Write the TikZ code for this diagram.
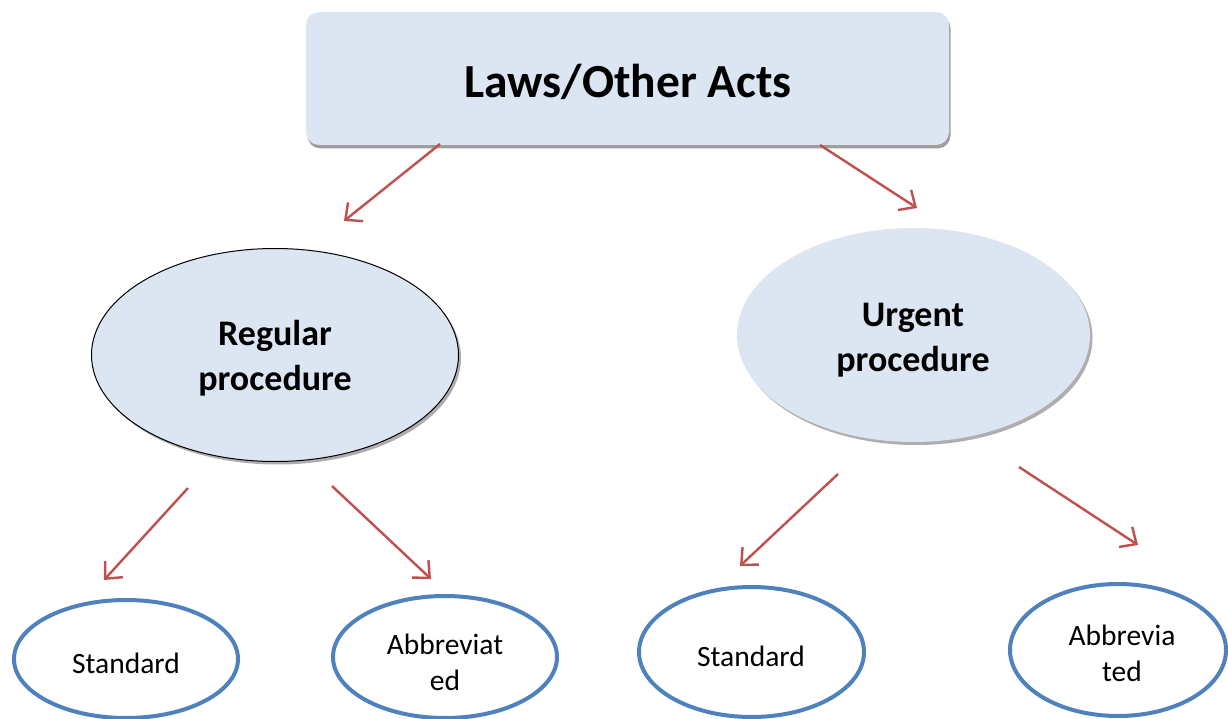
\documentclass[tikz,border=0pt]{standalone}
\usepackage{fontspec}
\setmainfont{Carlito}
\usetikzlibrary{shapes.geometric,arrows.meta,shadows}
\definecolor{boxfill}{HTML}{DCE6F2}
\definecolor{arrowred}{HTML}{C0504D}
\definecolor{ringblue}{HTML}{4F81BD}
\tikzset{
  topbox/.style={rectangle, rounded corners=13pt, fill=boxfill, inner sep=0pt,
    minimum width=643pt, minimum height=133pt,
    drop shadow={shadow xshift=1.5pt, shadow yshift=-3.5pt, fill=black!38, opacity=1}},
  bigoval/.style={ellipse, fill=boxfill, inner sep=0pt,
    drop shadow={shadow xshift=2.5pt, shadow yshift=-3pt, fill=black!35, opacity=0.9}},
  bigtext/.style={align=center, inner sep=0pt, font=\bfseries\fontsize{36}{45}\selectfont},
  ring/.style={ellipse, draw=ringblue, line width=4pt, fill=white, inner sep=0pt},
  smalltext/.style={align=center, inner sep=0pt, font=\fontsize{29.5}{36}\selectfont},
  redarrow/.style={draw=arrowred, line width=2.4pt,
    -{Straight Barb[length=13pt,width=24pt,line width=2.4pt]}}
}
\begin{document}
\begin{tikzpicture}[x=1pt,y=-1pt]
\useasboundingbox (0,0) rectangle (1228,719);
\fill[white] (0,0) rectangle (1228,719);

\node[topbox] (top) at (627.5,78.5) {};
\node[inner sep=0pt, font=\bfseries\fontsize{47.5}{56}\selectfont] (toptext) at (628,81.5) {Laws/Other Acts};

\node[bigoval, draw=black, line width=1pt, minimum width=367pt, minimum height=213pt] (reg) at (275,355) {};
\node[bigtext] (regtext) at (275,358) {Regular\\procedure};
\node[bigoval, minimum width=353pt, minimum height=214pt] (urg) at (913.5,335) {};
\node[bigtext] (urgtext) at (913,340) {Urgent\\procedure};

\node[ring, minimum width=224pt, minimum height=118pt] (std1) at (126,659) {};
\node[smalltext] (std1text) at (126,663) {Standard};
\node[ring, minimum width=224pt, minimum height=122pt] (abb1) at (445,657) {};
\node[smalltext] (abb1text) at (445,662) {Abbreviat\\ed};
\node[ring, minimum width=225pt, minimum height=130pt] (std2) at (751.5,652) {};
\node[smalltext] (std2text) at (751,656) {Standard};
\node[ring, minimum width=216pt, minimum height=132pt] (abb2) at (1118,650) {};
\node[smalltext] (abb2text) at (1122,653) {Abbrevia\\ted};

\coordinate (a1s) at (440,144);
\coordinate (a1e) at (344,221);
\coordinate (a2s) at (820,145);
\coordinate (a2e) at (917,208);
\coordinate (a3s) at (188,488);
\coordinate (a3e) at (104,580);
\coordinate (a4s) at (332,486);
\coordinate (a4e) at (431,579);
\coordinate (a5s) at (838,474);
\coordinate (a5e) at (740,566);
\coordinate (a6s) at (1019,467);
\coordinate (a6e) at (1138,545);

\draw[redarrow] (a1s) -- (a1e);
\draw[redarrow] (a2s) -- (a2e);
\draw[redarrow] (a3s) -- (a3e);
\draw[redarrow] (a4s) -- (a4e);
\draw[redarrow] (a5s) -- (a5e);
\draw[redarrow] (a6s) -- (a6e);
\end{tikzpicture}
\end{document}
